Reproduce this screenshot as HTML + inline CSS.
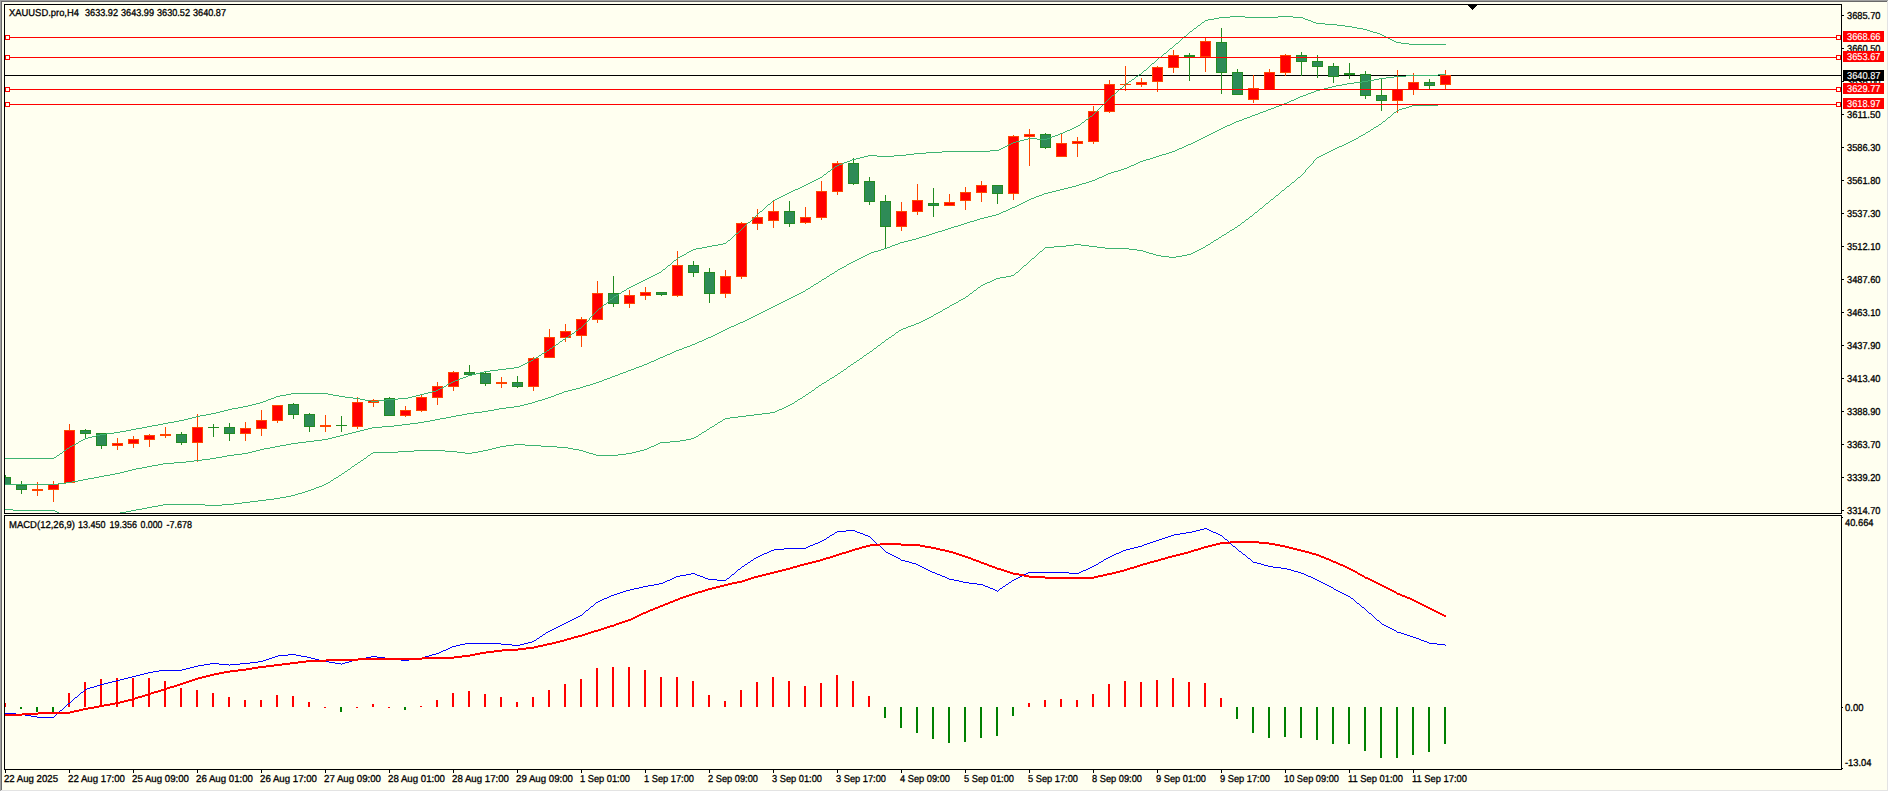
<!DOCTYPE html>
<html lang="en"><head><meta charset="utf-8"><title>XAUUSD.pro,H4</title>
<style>html,body{margin:0;padding:0;background:#FFFFF0;overflow:hidden}svg{display:block}text{font-family:"Liberation Sans",Arial,sans-serif;font-size:10px;fill:#000;stroke:#000;stroke-width:.3px;white-space:pre;text-rendering:geometricPrecision}.w{fill:#fff;stroke:#fff;stroke-width:.15px}</style></head><body>
<svg width="1889" height="792" viewBox="0 0 1889 792" shape-rendering="crispEdges">
<rect x="0" y="0" width="1889" height="792" fill="#FFFFF0"/>
<rect x="0" y="0" width="1889" height="1" fill="#A0A0A0"/>
<rect x="0" y="0" width="1" height="792" fill="#A0A0A0"/>
<rect x="1" y="1" width="1887" height="1" fill="#696969"/>
<rect x="1" y="1" width="1" height="790" fill="#696969"/>
<rect x="1888" y="0" width="1" height="792" fill="#FFFFFF"/>
<rect x="0" y="791" width="1889" height="1" fill="#FFFFFF"/>
<rect x="1887" y="1" width="1" height="790" fill="#E3E3E3"/>
<rect x="1" y="790" width="1887" height="1" fill="#E3E3E3"/>
<defs><clipPath id="c1"><rect x="5" y="5" width="1836" height="508"/></clipPath><clipPath id="c2"><rect x="5" y="516" width="1836" height="253"/></clipPath></defs>
<rect x="4" y="4" width="1838" height="1" fill="#000"/>
<rect x="4" y="513" width="1838" height="1" fill="#000"/>
<rect x="4" y="4" width="1" height="510" fill="#000"/>
<rect x="1841" y="4" width="1" height="510" fill="#000"/>
<rect x="4" y="515" width="1838" height="1" fill="#000"/>
<rect x="4" y="769" width="1838" height="1" fill="#000"/>
<rect x="4" y="515" width="1" height="255" fill="#000"/>
<rect x="1841" y="515" width="1" height="255" fill="#000"/>
<rect x="5" y="75" width="1836" height="1" fill="#000"/>
<g clip-path="url(#c1)">
<rect x="5" y="475" width="1" height="10" fill="#228B22"/>
<rect x="0" y="477" width="11" height="8" fill="#228B22"/>
<rect x="1" y="478" width="9" height="6" fill="#2E8B57"/>
<rect x="21" y="481" width="1" height="13" fill="#228B22"/>
<rect x="16" y="485" width="11" height="5" fill="#228B22"/>
<rect x="17" y="486" width="9" height="3" fill="#2E8B57"/>
<rect x="37" y="482" width="1" height="14" fill="#FF4500"/>
<rect x="32" y="489" width="11" height="2" fill="#FF4500"/>
<rect x="53" y="481" width="1" height="21" fill="#FF4500"/>
<rect x="48" y="484" width="11" height="6" fill="#FF4500"/>
<rect x="49" y="485" width="9" height="4" fill="#FF0000"/>
<rect x="69" y="424" width="1" height="59" fill="#FF4500"/>
<rect x="64" y="430" width="11" height="53" fill="#FF4500"/>
<rect x="65" y="431" width="9" height="51" fill="#FF0000"/>
<rect x="85" y="429" width="1" height="10" fill="#228B22"/>
<rect x="80" y="430" width="11" height="4" fill="#228B22"/>
<rect x="81" y="431" width="9" height="2" fill="#2E8B57"/>
<rect x="101" y="433" width="1" height="16" fill="#228B22"/>
<rect x="96" y="433" width="11" height="13" fill="#228B22"/>
<rect x="97" y="434" width="9" height="11" fill="#2E8B57"/>
<rect x="117" y="438" width="1" height="12" fill="#FF4500"/>
<rect x="112" y="443" width="11" height="3" fill="#FF4500"/>
<rect x="113" y="444" width="9" height="1" fill="#FF0000"/>
<rect x="133" y="436" width="1" height="12" fill="#FF4500"/>
<rect x="128" y="439" width="11" height="5" fill="#FF4500"/>
<rect x="129" y="440" width="9" height="3" fill="#FF0000"/>
<rect x="149" y="434" width="1" height="13" fill="#FF4500"/>
<rect x="144" y="435" width="11" height="5" fill="#FF4500"/>
<rect x="145" y="436" width="9" height="3" fill="#FF0000"/>
<rect x="165" y="427" width="1" height="11" fill="#FF4500"/>
<rect x="160" y="434" width="11" height="2" fill="#FF4500"/>
<rect x="181" y="432" width="1" height="13" fill="#228B22"/>
<rect x="176" y="434" width="11" height="9" fill="#228B22"/>
<rect x="177" y="435" width="9" height="7" fill="#2E8B57"/>
<rect x="197" y="414" width="1" height="48" fill="#FF4500"/>
<rect x="192" y="427" width="11" height="16" fill="#FF4500"/>
<rect x="193" y="428" width="9" height="14" fill="#FF0000"/>
<rect x="213" y="424" width="1" height="13" fill="#228B22"/>
<rect x="208" y="427" width="11" height="1" fill="#228B22"/>
<rect x="229" y="423" width="1" height="18" fill="#228B22"/>
<rect x="224" y="427" width="11" height="7" fill="#228B22"/>
<rect x="225" y="428" width="9" height="5" fill="#2E8B57"/>
<rect x="245" y="422" width="1" height="19" fill="#FF4500"/>
<rect x="240" y="428" width="11" height="6" fill="#FF4500"/>
<rect x="241" y="429" width="9" height="4" fill="#FF0000"/>
<rect x="261" y="410" width="1" height="26" fill="#FF4500"/>
<rect x="256" y="420" width="11" height="9" fill="#FF4500"/>
<rect x="257" y="421" width="9" height="7" fill="#FF0000"/>
<rect x="277" y="405" width="1" height="18" fill="#FF4500"/>
<rect x="272" y="405" width="11" height="16" fill="#FF4500"/>
<rect x="273" y="406" width="9" height="14" fill="#FF0000"/>
<rect x="293" y="403" width="1" height="16" fill="#228B22"/>
<rect x="288" y="404" width="11" height="11" fill="#228B22"/>
<rect x="289" y="405" width="9" height="9" fill="#2E8B57"/>
<rect x="309" y="413" width="1" height="19" fill="#228B22"/>
<rect x="304" y="414" width="11" height="13" fill="#228B22"/>
<rect x="305" y="415" width="9" height="11" fill="#2E8B57"/>
<rect x="325" y="415" width="1" height="17" fill="#FF4500"/>
<rect x="320" y="425" width="11" height="2" fill="#FF4500"/>
<rect x="341" y="416" width="1" height="16" fill="#228B22"/>
<rect x="336" y="425" width="11" height="1" fill="#228B22"/>
<rect x="357" y="397" width="1" height="32" fill="#FF4500"/>
<rect x="352" y="402" width="11" height="25" fill="#FF4500"/>
<rect x="353" y="403" width="9" height="23" fill="#FF0000"/>
<rect x="373" y="399" width="1" height="8" fill="#FF4500"/>
<rect x="368" y="400" width="11" height="3" fill="#FF4500"/>
<rect x="369" y="401" width="9" height="1" fill="#FF0000"/>
<rect x="389" y="397" width="1" height="19" fill="#228B22"/>
<rect x="384" y="398" width="11" height="18" fill="#228B22"/>
<rect x="385" y="399" width="9" height="16" fill="#2E8B57"/>
<rect x="405" y="406" width="1" height="11" fill="#FF4500"/>
<rect x="400" y="410" width="11" height="6" fill="#FF4500"/>
<rect x="401" y="411" width="9" height="4" fill="#FF0000"/>
<rect x="421" y="394" width="1" height="18" fill="#FF4500"/>
<rect x="416" y="397" width="11" height="14" fill="#FF4500"/>
<rect x="417" y="398" width="9" height="12" fill="#FF0000"/>
<rect x="437" y="382" width="1" height="23" fill="#FF4500"/>
<rect x="432" y="386" width="11" height="12" fill="#FF4500"/>
<rect x="433" y="387" width="9" height="10" fill="#FF0000"/>
<rect x="453" y="371" width="1" height="20" fill="#FF4500"/>
<rect x="448" y="372" width="11" height="15" fill="#FF4500"/>
<rect x="449" y="373" width="9" height="13" fill="#FF0000"/>
<rect x="469" y="365" width="1" height="11" fill="#228B22"/>
<rect x="464" y="372" width="11" height="3" fill="#228B22"/>
<rect x="465" y="373" width="9" height="1" fill="#2E8B57"/>
<rect x="485" y="371" width="1" height="15" fill="#228B22"/>
<rect x="480" y="373" width="11" height="11" fill="#228B22"/>
<rect x="481" y="374" width="9" height="9" fill="#2E8B57"/>
<rect x="501" y="377" width="1" height="11" fill="#FF4500"/>
<rect x="496" y="382" width="11" height="2" fill="#FF4500"/>
<rect x="517" y="376" width="1" height="12" fill="#228B22"/>
<rect x="512" y="382" width="11" height="5" fill="#228B22"/>
<rect x="513" y="383" width="9" height="3" fill="#2E8B57"/>
<rect x="533" y="357" width="1" height="34" fill="#FF4500"/>
<rect x="528" y="358" width="11" height="29" fill="#FF4500"/>
<rect x="529" y="359" width="9" height="27" fill="#FF0000"/>
<rect x="549" y="329" width="1" height="29" fill="#FF4500"/>
<rect x="544" y="337" width="11" height="21" fill="#FF4500"/>
<rect x="545" y="338" width="9" height="19" fill="#FF0000"/>
<rect x="565" y="324" width="1" height="18" fill="#FF4500"/>
<rect x="560" y="331" width="11" height="7" fill="#FF4500"/>
<rect x="561" y="332" width="9" height="5" fill="#FF0000"/>
<rect x="581" y="317" width="1" height="30" fill="#FF4500"/>
<rect x="576" y="319" width="11" height="17" fill="#FF4500"/>
<rect x="577" y="320" width="9" height="15" fill="#FF0000"/>
<rect x="597" y="281" width="1" height="42" fill="#FF4500"/>
<rect x="592" y="293" width="11" height="27" fill="#FF4500"/>
<rect x="593" y="294" width="9" height="25" fill="#FF0000"/>
<rect x="613" y="276" width="1" height="31" fill="#228B22"/>
<rect x="608" y="293" width="11" height="11" fill="#228B22"/>
<rect x="609" y="294" width="9" height="9" fill="#2E8B57"/>
<rect x="629" y="290" width="1" height="18" fill="#FF4500"/>
<rect x="624" y="295" width="11" height="9" fill="#FF4500"/>
<rect x="625" y="296" width="9" height="7" fill="#FF0000"/>
<rect x="645" y="287" width="1" height="13" fill="#FF4500"/>
<rect x="640" y="292" width="11" height="4" fill="#FF4500"/>
<rect x="641" y="293" width="9" height="2" fill="#FF0000"/>
<rect x="661" y="292" width="1" height="4" fill="#228B22"/>
<rect x="656" y="292" width="11" height="3" fill="#228B22"/>
<rect x="657" y="293" width="9" height="1" fill="#2E8B57"/>
<rect x="677" y="251" width="1" height="46" fill="#FF4500"/>
<rect x="672" y="265" width="11" height="31" fill="#FF4500"/>
<rect x="673" y="266" width="9" height="29" fill="#FF0000"/>
<rect x="693" y="261" width="1" height="16" fill="#228B22"/>
<rect x="688" y="265" width="11" height="8" fill="#228B22"/>
<rect x="689" y="266" width="9" height="6" fill="#2E8B57"/>
<rect x="709" y="268" width="1" height="35" fill="#228B22"/>
<rect x="704" y="272" width="11" height="22" fill="#228B22"/>
<rect x="705" y="273" width="9" height="20" fill="#2E8B57"/>
<rect x="725" y="270" width="1" height="28" fill="#FF4500"/>
<rect x="720" y="276" width="11" height="18" fill="#FF4500"/>
<rect x="721" y="277" width="9" height="16" fill="#FF0000"/>
<rect x="741" y="222" width="1" height="57" fill="#FF4500"/>
<rect x="736" y="223" width="11" height="54" fill="#FF4500"/>
<rect x="737" y="224" width="9" height="52" fill="#FF0000"/>
<rect x="757" y="209" width="1" height="21" fill="#FF4500"/>
<rect x="752" y="217" width="11" height="7" fill="#FF4500"/>
<rect x="753" y="218" width="9" height="5" fill="#FF0000"/>
<rect x="773" y="200" width="1" height="28" fill="#FF4500"/>
<rect x="768" y="211" width="11" height="10" fill="#FF4500"/>
<rect x="769" y="212" width="9" height="8" fill="#FF0000"/>
<rect x="789" y="201" width="1" height="26" fill="#228B22"/>
<rect x="784" y="211" width="11" height="13" fill="#228B22"/>
<rect x="785" y="212" width="9" height="11" fill="#2E8B57"/>
<rect x="805" y="207" width="1" height="17" fill="#FF4500"/>
<rect x="800" y="217" width="11" height="6" fill="#FF4500"/>
<rect x="801" y="218" width="9" height="4" fill="#FF0000"/>
<rect x="821" y="181" width="1" height="39" fill="#FF4500"/>
<rect x="816" y="191" width="11" height="27" fill="#FF4500"/>
<rect x="817" y="192" width="9" height="25" fill="#FF0000"/>
<rect x="837" y="161" width="1" height="34" fill="#FF4500"/>
<rect x="832" y="163" width="11" height="29" fill="#FF4500"/>
<rect x="833" y="164" width="9" height="27" fill="#FF0000"/>
<rect x="853" y="158" width="1" height="27" fill="#228B22"/>
<rect x="848" y="163" width="11" height="21" fill="#228B22"/>
<rect x="849" y="164" width="9" height="19" fill="#2E8B57"/>
<rect x="869" y="177" width="1" height="28" fill="#228B22"/>
<rect x="864" y="181" width="11" height="21" fill="#228B22"/>
<rect x="865" y="182" width="9" height="19" fill="#2E8B57"/>
<rect x="885" y="195" width="1" height="54" fill="#228B22"/>
<rect x="880" y="201" width="11" height="26" fill="#228B22"/>
<rect x="881" y="202" width="9" height="24" fill="#2E8B57"/>
<rect x="901" y="202" width="1" height="29" fill="#FF4500"/>
<rect x="896" y="211" width="11" height="16" fill="#FF4500"/>
<rect x="897" y="212" width="9" height="14" fill="#FF0000"/>
<rect x="917" y="184" width="1" height="31" fill="#FF4500"/>
<rect x="912" y="200" width="11" height="12" fill="#FF4500"/>
<rect x="913" y="201" width="9" height="10" fill="#FF0000"/>
<rect x="933" y="188" width="1" height="29" fill="#228B22"/>
<rect x="928" y="203" width="11" height="3" fill="#228B22"/>
<rect x="929" y="204" width="9" height="1" fill="#2E8B57"/>
<rect x="949" y="194" width="1" height="12" fill="#FF4500"/>
<rect x="944" y="202" width="11" height="4" fill="#FF4500"/>
<rect x="945" y="203" width="9" height="2" fill="#FF0000"/>
<rect x="965" y="187" width="1" height="23" fill="#FF4500"/>
<rect x="960" y="192" width="11" height="9" fill="#FF4500"/>
<rect x="961" y="193" width="9" height="7" fill="#FF0000"/>
<rect x="981" y="181" width="1" height="21" fill="#FF4500"/>
<rect x="976" y="185" width="11" height="8" fill="#FF4500"/>
<rect x="977" y="186" width="9" height="6" fill="#FF0000"/>
<rect x="997" y="185" width="1" height="19" fill="#228B22"/>
<rect x="992" y="185" width="11" height="9" fill="#228B22"/>
<rect x="993" y="186" width="9" height="7" fill="#2E8B57"/>
<rect x="1013" y="135" width="1" height="65" fill="#FF4500"/>
<rect x="1008" y="136" width="11" height="58" fill="#FF4500"/>
<rect x="1009" y="137" width="9" height="56" fill="#FF0000"/>
<rect x="1029" y="129" width="1" height="37" fill="#FF4500"/>
<rect x="1024" y="134" width="11" height="3" fill="#FF4500"/>
<rect x="1025" y="135" width="9" height="1" fill="#FF0000"/>
<rect x="1045" y="133" width="1" height="16" fill="#228B22"/>
<rect x="1040" y="134" width="11" height="14" fill="#228B22"/>
<rect x="1041" y="135" width="9" height="12" fill="#2E8B57"/>
<rect x="1061" y="133" width="1" height="24" fill="#FF4500"/>
<rect x="1056" y="143" width="11" height="14" fill="#FF4500"/>
<rect x="1057" y="144" width="9" height="12" fill="#FF0000"/>
<rect x="1077" y="137" width="1" height="20" fill="#FF4500"/>
<rect x="1072" y="141" width="11" height="3" fill="#FF4500"/>
<rect x="1073" y="142" width="9" height="1" fill="#FF0000"/>
<rect x="1093" y="106" width="1" height="38" fill="#FF4500"/>
<rect x="1088" y="111" width="11" height="31" fill="#FF4500"/>
<rect x="1089" y="112" width="9" height="29" fill="#FF0000"/>
<rect x="1109" y="80" width="1" height="33" fill="#FF4500"/>
<rect x="1104" y="84" width="11" height="28" fill="#FF4500"/>
<rect x="1105" y="85" width="9" height="26" fill="#FF0000"/>
<rect x="1125" y="66" width="1" height="25" fill="#FF4500"/>
<rect x="1120" y="84" width="11" height="1" fill="#FF4500"/>
<rect x="1141" y="78" width="1" height="9" fill="#FF4500"/>
<rect x="1136" y="82" width="11" height="3" fill="#FF4500"/>
<rect x="1137" y="83" width="9" height="1" fill="#FF0000"/>
<rect x="1157" y="66" width="1" height="26" fill="#FF4500"/>
<rect x="1152" y="67" width="11" height="15" fill="#FF4500"/>
<rect x="1153" y="68" width="9" height="13" fill="#FF0000"/>
<rect x="1173" y="50" width="1" height="23" fill="#FF4500"/>
<rect x="1168" y="55" width="11" height="13" fill="#FF4500"/>
<rect x="1169" y="56" width="9" height="11" fill="#FF0000"/>
<rect x="1189" y="53" width="1" height="28" fill="#228B22"/>
<rect x="1184" y="55" width="11" height="2" fill="#228B22"/>
<rect x="1205" y="37" width="1" height="35" fill="#FF4500"/>
<rect x="1200" y="41" width="11" height="16" fill="#FF4500"/>
<rect x="1201" y="42" width="9" height="14" fill="#FF0000"/>
<rect x="1221" y="28" width="1" height="66" fill="#228B22"/>
<rect x="1216" y="42" width="11" height="31" fill="#228B22"/>
<rect x="1217" y="43" width="9" height="29" fill="#2E8B57"/>
<rect x="1237" y="69" width="1" height="26" fill="#228B22"/>
<rect x="1232" y="72" width="11" height="23" fill="#228B22"/>
<rect x="1233" y="73" width="9" height="21" fill="#2E8B57"/>
<rect x="1253" y="75" width="1" height="28" fill="#FF4500"/>
<rect x="1248" y="88" width="11" height="12" fill="#FF4500"/>
<rect x="1249" y="89" width="9" height="10" fill="#FF0000"/>
<rect x="1269" y="69" width="1" height="21" fill="#FF4500"/>
<rect x="1264" y="72" width="11" height="18" fill="#FF4500"/>
<rect x="1265" y="73" width="9" height="16" fill="#FF0000"/>
<rect x="1285" y="54" width="1" height="22" fill="#FF4500"/>
<rect x="1280" y="55" width="11" height="18" fill="#FF4500"/>
<rect x="1281" y="56" width="9" height="16" fill="#FF0000"/>
<rect x="1301" y="52" width="1" height="24" fill="#228B22"/>
<rect x="1296" y="55" width="11" height="7" fill="#228B22"/>
<rect x="1297" y="56" width="9" height="5" fill="#2E8B57"/>
<rect x="1317" y="55" width="1" height="23" fill="#228B22"/>
<rect x="1312" y="61" width="11" height="6" fill="#228B22"/>
<rect x="1313" y="62" width="9" height="4" fill="#2E8B57"/>
<rect x="1333" y="63" width="1" height="20" fill="#228B22"/>
<rect x="1328" y="66" width="11" height="11" fill="#228B22"/>
<rect x="1329" y="67" width="9" height="9" fill="#2E8B57"/>
<rect x="1349" y="63" width="1" height="16" fill="#228B22"/>
<rect x="1344" y="73" width="11" height="2" fill="#228B22"/>
<rect x="1365" y="71" width="1" height="28" fill="#228B22"/>
<rect x="1360" y="74" width="11" height="22" fill="#228B22"/>
<rect x="1361" y="75" width="9" height="20" fill="#2E8B57"/>
<rect x="1381" y="78" width="1" height="33" fill="#228B22"/>
<rect x="1376" y="95" width="11" height="6" fill="#228B22"/>
<rect x="1377" y="96" width="9" height="4" fill="#2E8B57"/>
<rect x="1397" y="70" width="1" height="43" fill="#FF4500"/>
<rect x="1392" y="89" width="11" height="12" fill="#FF4500"/>
<rect x="1393" y="90" width="9" height="10" fill="#FF0000"/>
<rect x="1413" y="73" width="1" height="22" fill="#FF4500"/>
<rect x="1408" y="82" width="11" height="8" fill="#FF4500"/>
<rect x="1409" y="83" width="9" height="6" fill="#FF0000"/>
<rect x="1429" y="79" width="1" height="11" fill="#228B22"/>
<rect x="1424" y="82" width="11" height="4" fill="#228B22"/>
<rect x="1425" y="83" width="9" height="2" fill="#2E8B57"/>
<rect x="1445" y="70" width="1" height="20" fill="#FF4500"/>
<rect x="1440" y="75" width="11" height="10" fill="#FF4500"/>
<rect x="1441" y="76" width="9" height="8" fill="#FF0000"/>
<path fill="none" stroke="#3CB371" stroke-width="1" d="M1230 16.5h15M1278 16.5h15M1219 17.5h11M1245 17.5h33M1293 17.5h10M1214 18.5h5M1303 18.5h2M1208 19.5h6M1305 19.5h3M1205 20.5h3M1308 20.5h3M1204 21.5h1M1311 21.5h2M1202 22.5h2M1313 22.5h3M1201 23.5h1M1316 23.5h9M1200 24.5h1M1325 24.5h12M1198 25.5h2M1337 25.5h8M1197 26.5h1M1345 26.5h7M1196 27.5h1M1352 27.5h5M1194 28.5h2M1357 28.5h6M1193 29.5h1M1363 29.5h4M1192 30.5h1M1367 30.5h3M1190 31.5h2M1370 31.5h3M1189 32.5h1M1373 32.5h4M1188 33.5h1M1377 33.5h3M1187 34.5h1M1380 34.5h2M1186 35.5h1M1382 35.5h2M1184 36.5h2M1384 36.5h2M1183 37.5h1M1386 37.5h2M1182 38.5h1M1388 38.5h2M1181 39.5h1M1390 39.5h2M1180 40.5h1M1392 40.5h2M1179 41.5h1M1394 41.5h2M1178 42.5h1M1396 42.5h5M1176 43.5h2M1401 43.5h8M1175 44.5h1M1409 44.5h37M1174 45.5h1M1173 46.5h1M1172 47.5h1M1170 48.5h2M1169 49.5h1M1168 50.5h1M1167 51.5h1M1166 52.5h1M1164 53.5h2M1163 54.5h1M1162 55.5h1M1161 56.5h1M1159 57.5h2M1158 58.5h1M1157 59.5h1M1156 60.5h1M1155 61.5h1M1154 62.5h1M1152 63.5h2M1151 64.5h1M1150 65.5h1M1149 66.5h1M1148 67.5h1M1147 68.5h1M1146 69.5h1M1144 70.5h2M1143 71.5h1M1142 72.5h1M1141 73.5h1M1139 74.5h2M1138 75.5h1M1136 76.5h2M1135 77.5h1M1134 78.5h1M1132 79.5h2M1131 80.5h1M1129 81.5h2M1128 82.5h1M1126 83.5h2M1125 84.5h1M1124 85.5h1M1123 86.5h1M1122 87.5h1M1120 88.5h2M1119 89.5h1M1118 90.5h1M1117 91.5h1M1116 92.5h1M1115 93.5h1M1114 94.5h1M1112 95.5h2M1111 96.5h1M1110 97.5h1M1109 98.5h1M1108 99.5h1M1107 100.5h1M1106 101.5h1M1105 102.5h1M1104 103.5h1M1103 104.5h1M1102 105.5h1M1101 106.5h1M1100 107.5h1M1099 108.5h1M1098 109.5h1M1097 110.5h1M1096 111.5h1M1095 112.5h1M1094 113.5h1M1093 114.5h1M1092 115.5h1M1090 116.5h2M1089 117.5h1M1088 118.5h1M1086 119.5h2M1085 120.5h1M1084 121.5h1M1082 122.5h2M1081 123.5h1M1080 124.5h1M1078 125.5h2M1076 126.5h2M1074 127.5h2M1072 128.5h2M1070 129.5h2M1067 130.5h3M1065 131.5h2M1063 132.5h2M1060 133.5h3M1058 134.5h2M1055 135.5h3M1052 136.5h3M1050 137.5h2M1028 138.5h9M1047 138.5h3M1024 139.5h4M1037 139.5h10M1020 140.5h4M1016 141.5h4M1013 142.5h3M1011 143.5h2M1009 144.5h2M1007 145.5h2M1005 146.5h2M1003 147.5h2M1001 148.5h2M999 149.5h2M990 150.5h9M942 151.5h48M926 152.5h16M914 153.5h12M906 154.5h8M868 155.5h9M894 155.5h12M864 156.5h4M877 156.5h17M860 157.5h4M856 158.5h4M852 159.5h4M850 160.5h2M847 161.5h3M844 162.5h3M842 163.5h2M839 164.5h3M837 165.5h2M835 166.5h2M834 167.5h1M833 168.5h1M831 169.5h2M830 170.5h1M828 171.5h2M827 172.5h1M826 173.5h1M824 174.5h2M823 175.5h1M822 176.5h1M820 177.5h2M818 178.5h2M816 179.5h2M814 180.5h2M812 181.5h2M810 182.5h2M808 183.5h2M806 184.5h2M804 185.5h2M802 186.5h2M800 187.5h2M798 188.5h2M795 189.5h3M793 190.5h2M791 191.5h2M789 192.5h2M787 193.5h2M785 194.5h2M783 195.5h2M781 196.5h2M779 197.5h2M777 198.5h2M775 199.5h2M773 200.5h2M772 201.5h1M771 202.5h1M770 203.5h1M768 204.5h2M767 205.5h1M766 206.5h1M765 207.5h1M764 208.5h1M763 209.5h1M762 210.5h1M760 211.5h2M759 212.5h1M758 213.5h1M757 214.5h1M756 215.5h1M755 216.5h1M754 217.5h1M753 218.5h1M752 219.5h1M751 220.5h1M750 221.5h1M748 222.5h2M747 223.5h1M746 224.5h1M745 225.5h1M744 226.5h1M743 227.5h1M742 228.5h1M741 229.5h1M740 230.5h1M739 231.5h1M738 232.5h1M736 233.5h2M735 234.5h1M734 235.5h1M733 236.5h1M732 237.5h1M731 238.5h1M730 239.5h1M728 240.5h2M727 241.5h1M726 242.5h1M723 243.5h3M718 244.5h5M712 245.5h6M707 246.5h5M702 247.5h5M696 248.5h6M693 249.5h3M691 250.5h2M689 251.5h2M687 252.5h2M686 253.5h1M684 254.5h2M682 255.5h2M680 256.5h2M678 257.5h2M677 258.5h1M676 259.5h1M674 260.5h2M673 261.5h1M672 262.5h1M671 263.5h1M670 264.5h1M668 265.5h2M667 266.5h1M666 267.5h1M665 268.5h1M663 269.5h2M662 270.5h1M661 271.5h1M659 272.5h2M657 273.5h2M655 274.5h2M653 275.5h2M651 276.5h2M649 277.5h2M647 278.5h2M645 279.5h2M643 280.5h2M641 281.5h2M639 282.5h2M637 283.5h2M635 284.5h2M633 285.5h2M631 286.5h2M629 287.5h2M627 288.5h2M626 289.5h1M624 290.5h2M622 291.5h2M621 292.5h1M619 293.5h2M618 294.5h1M616 295.5h2M614 296.5h2M613 297.5h1M612 298.5h1M610 299.5h2M609 300.5h1M608 301.5h1M607 302.5h1M606 303.5h1M604 304.5h2M603 305.5h1M602 306.5h1M601 307.5h1M599 308.5h2M598 309.5h1M597 310.5h1M596 311.5h1M595 312.5h1M594 313.5h1M593 314.5h1M592 315.5h1M591 316.5h1M590 317.5h1M589 318.5h1M589 319.5h1M588 320.5h1M587 321.5h1M586 322.5h1M585 323.5h1M584 324.5h1M583 325.5h1M582 326.5h1M581 327.5h1M579 328.5h2M578 329.5h1M576 330.5h2M575 331.5h1M574 332.5h1M572 333.5h2M571 334.5h1M569 335.5h2M568 336.5h1M566 337.5h2M565 338.5h1M563 339.5h2M562 340.5h1M560 341.5h2M559 342.5h1M558 343.5h1M556 344.5h2M555 345.5h1M553 346.5h2M552 347.5h1M550 348.5h2M549 349.5h1M547 350.5h2M546 351.5h1M544 352.5h2M542 353.5h2M541 354.5h1M539 355.5h2M538 356.5h1M536 357.5h2M534 358.5h2M533 359.5h1M531 360.5h2M529 361.5h2M527 362.5h2M525 363.5h2M523 364.5h2M521 365.5h2M519 366.5h2M514 367.5h5M506 368.5h8M498 369.5h8M490 370.5h8M484 371.5h6M480 372.5h4M476 373.5h4M472 374.5h4M468 375.5h4M466 376.5h2M463 377.5h3M460 378.5h3M458 379.5h2M455 380.5h3M453 381.5h2M451 382.5h2M449 383.5h2M447 384.5h2M446 385.5h1M444 386.5h2M442 387.5h2M440 388.5h2M438 389.5h2M436 390.5h2M432 391.5h4M428 392.5h4M291 393.5h37M424 393.5h4M286 394.5h5M328 394.5h5M420 394.5h4M280 395.5h6M333 395.5h6M416 395.5h4M276 396.5h4M339 396.5h6M412 396.5h4M274 397.5h2M345 397.5h8M408 397.5h4M271 398.5h3M353 398.5h7M398 398.5h10M268 399.5h3M360 399.5h5M386 399.5h12M266 400.5h2M365 400.5h6M378 400.5h8M263 401.5h3M371 401.5h7M260 402.5h3M256 403.5h4M252 404.5h4M248 405.5h4M243 406.5h5M238 407.5h5M232 408.5h6M228 409.5h4M224 410.5h4M220 411.5h4M216 412.5h4M211 413.5h5M206 414.5h5M200 415.5h6M196 416.5h4M192 417.5h4M188 418.5h4M184 419.5h4M179 420.5h5M174 421.5h5M168 422.5h6M163 423.5h5M158 424.5h5M152 425.5h6M147 426.5h5M142 427.5h5M136 428.5h6M131 429.5h5M126 430.5h5M120 431.5h6M114 432.5h6M106 433.5h8M100 434.5h6M96 435.5h4M92 436.5h4M88 437.5h4M85 438.5h3M83 439.5h2M81 440.5h2M79 441.5h2M78 442.5h1M76 443.5h2M74 444.5h2M72 445.5h2M70 446.5h2M69 447.5h1M67 448.5h2M66 449.5h1M64 450.5h2M63 451.5h1M62 452.5h1M60 453.5h2M59 454.5h1M57 455.5h2M56 456.5h1M54 457.5h2M-11 458.5h65"/>
<path fill="none" stroke="#3CB371" stroke-width="1" d="M1438 74.5h8M1406 75.5h32M1394 76.5h12M1386 77.5h8M1379 78.5h7M1374 79.5h5M1368 80.5h6M1362 81.5h6M1354 82.5h8M1347 83.5h7M1342 84.5h5M1336 85.5h6M1332 86.5h4M1328 87.5h4M1324 88.5h4M1320 89.5h4M1316 90.5h4M1314 91.5h2M1311 92.5h3M1308 93.5h3M1306 94.5h2M1303 95.5h3M1300 96.5h3M1298 97.5h2M1296 98.5h2M1294 99.5h2M1291 100.5h3M1289 101.5h2M1287 102.5h2M1284 103.5h3M1282 104.5h2M1279 105.5h3M1276 106.5h3M1274 107.5h2M1271 108.5h3M1268 109.5h3M1266 110.5h2M1263 111.5h3M1260 112.5h3M1258 113.5h2M1255 114.5h3M1252 115.5h3M1250 116.5h2M1247 117.5h3M1244 118.5h3M1242 119.5h2M1239 120.5h3M1236 121.5h3M1234 122.5h2M1232 123.5h2M1230 124.5h2M1227 125.5h3M1225 126.5h2M1223 127.5h2M1221 128.5h2M1219 129.5h2M1217 130.5h2M1215 131.5h2M1213 132.5h2M1211 133.5h2M1209 134.5h2M1207 135.5h2M1205 136.5h2M1203 137.5h2M1201 138.5h2M1199 139.5h2M1197 140.5h2M1195 141.5h2M1193 142.5h2M1191 143.5h2M1188 144.5h3M1186 145.5h2M1184 146.5h2M1182 147.5h2M1179 148.5h3M1177 149.5h2M1175 150.5h2M1172 151.5h3M1169 152.5h3M1166 153.5h3M1162 154.5h4M1159 155.5h3M1156 156.5h3M1153 157.5h3M1150 158.5h3M1146 159.5h4M1143 160.5h3M1140 161.5h3M1138 162.5h2M1136 163.5h2M1134 164.5h2M1131 165.5h3M1129 166.5h2M1127 167.5h2M1124 168.5h3M1121 169.5h3M1118 170.5h3M1114 171.5h4M1111 172.5h3M1108 173.5h3M1106 174.5h2M1104 175.5h2M1102 176.5h2M1099 177.5h3M1097 178.5h2M1095 179.5h2M1092 180.5h3M1089 181.5h3M1086 182.5h3M1082 183.5h4M1079 184.5h3M1076 185.5h3M1072 186.5h4M1068 187.5h4M1064 188.5h4M1060 189.5h4M1056 190.5h4M1052 191.5h4M1048 192.5h4M1044 193.5h4M1042 194.5h2M1039 195.5h3M1036 196.5h3M1034 197.5h2M1031 198.5h3M1029 199.5h2M1027 200.5h2M1025 201.5h2M1023 202.5h2M1021 203.5h2M1019 204.5h2M1017 205.5h2M1015 206.5h2M1012 207.5h3M1010 208.5h2M1008 209.5h2M1006 210.5h2M1003 211.5h3M1001 212.5h2M999 213.5h2M996 214.5h3M992 215.5h4M988 216.5h4M984 217.5h4M980 218.5h4M977 219.5h3M974 220.5h3M970 221.5h4M967 222.5h3M964 223.5h3M961 224.5h3M958 225.5h3M954 226.5h4M951 227.5h3M948 228.5h3M945 229.5h3M942 230.5h3M938 231.5h4M935 232.5h3M932 233.5h3M929 234.5h3M926 235.5h3M922 236.5h4M919 237.5h3M916 238.5h3M912 239.5h4M908 240.5h4M904 241.5h4M900 242.5h4M898 243.5h2M895 244.5h3M892 245.5h3M890 246.5h2M887 247.5h3M884 248.5h3M881 249.5h3M878 250.5h3M874 251.5h4M871 252.5h3M869 253.5h2M867 254.5h2M865 255.5h2M863 256.5h2M861 257.5h2M859 258.5h2M857 259.5h2M855 260.5h2M853 261.5h2M851 262.5h2M849 263.5h2M847 264.5h2M846 265.5h1M844 266.5h2M842 267.5h2M840 268.5h2M838 269.5h2M837 270.5h1M835 271.5h2M834 272.5h1M832 273.5h2M830 274.5h2M829 275.5h1M827 276.5h2M826 277.5h1M824 278.5h2M822 279.5h2M821 280.5h1M819 281.5h2M818 282.5h1M816 283.5h2M814 284.5h2M813 285.5h1M811 286.5h2M810 287.5h1M808 288.5h2M806 289.5h2M805 290.5h1M803 291.5h2M801 292.5h2M799 293.5h2M797 294.5h2M795 295.5h2M793 296.5h2M791 297.5h2M789 298.5h2M787 299.5h2M785 300.5h2M783 301.5h2M781 302.5h2M779 303.5h2M777 304.5h2M775 305.5h2M773 306.5h2M771 307.5h2M769 308.5h2M767 309.5h2M765 310.5h2M763 311.5h2M761 312.5h2M759 313.5h2M757 314.5h2M755 315.5h2M753 316.5h2M751 317.5h2M749 318.5h2M747 319.5h2M745 320.5h2M743 321.5h2M740 322.5h3M738 323.5h2M736 324.5h2M734 325.5h2M731 326.5h3M729 327.5h2M727 328.5h2M725 329.5h2M723 330.5h2M721 331.5h2M719 332.5h2M717 333.5h2M715 334.5h2M713 335.5h2M711 336.5h2M708 337.5h3M706 338.5h2M704 339.5h2M702 340.5h2M699 341.5h3M697 342.5h2M695 343.5h2M692 344.5h3M690 345.5h2M687 346.5h3M684 347.5h3M682 348.5h2M679 349.5h3M676 350.5h3M674 351.5h2M672 352.5h2M670 353.5h2M667 354.5h3M665 355.5h2M663 356.5h2M660 357.5h3M658 358.5h2M656 359.5h2M654 360.5h2M651 361.5h3M649 362.5h2M647 363.5h2M644 364.5h3M642 365.5h2M639 366.5h3M636 367.5h3M634 368.5h2M631 369.5h3M628 370.5h3M626 371.5h2M623 372.5h3M620 373.5h3M618 374.5h2M615 375.5h3M612 376.5h3M610 377.5h2M607 378.5h3M604 379.5h3M602 380.5h2M599 381.5h3M596 382.5h3M593 383.5h3M590 384.5h3M586 385.5h4M583 386.5h3M580 387.5h3M576 388.5h4M572 389.5h4M568 390.5h4M564 391.5h4M562 392.5h2M559 393.5h3M556 394.5h3M554 395.5h2M551 396.5h3M548 397.5h3M545 398.5h3M542 399.5h3M538 400.5h4M535 401.5h3M532 402.5h3M528 403.5h4M524 404.5h4M520 405.5h4M514 406.5h6M506 407.5h8M499 408.5h7M494 409.5h5M488 410.5h6M482 411.5h6M474 412.5h8M467 413.5h7M462 414.5h5M456 415.5h6M451 416.5h5M446 417.5h5M440 418.5h6M435 419.5h5M430 420.5h5M424 421.5h6M418 422.5h6M410 423.5h8M402 424.5h8M394 425.5h8M382 426.5h12M372 427.5h10M368 428.5h4M364 429.5h4M360 430.5h4M356 431.5h4M352 432.5h4M348 433.5h4M344 434.5h4M340 435.5h4M336 436.5h4M332 437.5h4M328 438.5h4M322 439.5h6M314 440.5h8M306 441.5h8M298 442.5h8M291 443.5h7M286 444.5h5M280 445.5h6M275 446.5h5M270 447.5h5M264 448.5h6M260 449.5h4M256 450.5h4M252 451.5h4M248 452.5h4M242 453.5h6M234 454.5h8M227 455.5h7M222 456.5h5M216 457.5h6M210 458.5h6M202 459.5h8M194 460.5h8M186 461.5h8M174 462.5h12M163 463.5h11M158 464.5h5M152 465.5h6M147 466.5h5M142 467.5h5M136 468.5h6M132 469.5h4M128 470.5h4M124 471.5h4M120 472.5h4M115 473.5h5M110 474.5h5M104 475.5h6M99 476.5h5M94 477.5h5M88 478.5h6M83 479.5h5M78 480.5h5M72 481.5h6M66 482.5h6M58 483.5h8M-11 484.5h69"/>
<path fill="none" stroke="#3CB371" stroke-width="1" d="M1438 104.5h8M1412 105.5h26M1409 106.5h3M1406 107.5h3M1402 108.5h4M1399 109.5h3M1397 110.5h2M1396 111.5h1M1394 112.5h2M1393 113.5h1M1392 114.5h1M1391 115.5h1M1390 116.5h1M1388 117.5h2M1387 118.5h1M1386 119.5h1M1385 120.5h1M1383 121.5h2M1382 122.5h1M1381 123.5h1M1379 124.5h2M1378 125.5h1M1376 126.5h2M1374 127.5h2M1373 128.5h1M1371 129.5h2M1370 130.5h1M1368 131.5h2M1366 132.5h2M1365 133.5h1M1363 134.5h2M1361 135.5h2M1359 136.5h2M1358 137.5h1M1356 138.5h2M1354 139.5h2M1352 140.5h2M1350 141.5h2M1348 142.5h2M1346 143.5h2M1344 144.5h2M1342 145.5h2M1339 146.5h3M1337 147.5h2M1335 148.5h2M1333 149.5h2M1331 150.5h2M1329 151.5h2M1327 152.5h2M1325 153.5h2M1323 154.5h2M1321 155.5h2M1319 156.5h2M1317 157.5h2M1316 158.5h1M1315 159.5h1M1314 160.5h1M1313 161.5h1M1313 162.5h1M1312 163.5h1M1311 164.5h1M1310 165.5h1M1309 166.5h1M1308 167.5h1M1307 168.5h1M1306 169.5h1M1305 170.5h1M1305 171.5h1M1304 172.5h1M1303 173.5h1M1302 174.5h1M1301 175.5h1M1300 176.5h1M1298 177.5h2M1297 178.5h1M1296 179.5h1M1295 180.5h1M1294 181.5h1M1292 182.5h2M1291 183.5h1M1290 184.5h1M1289 185.5h1M1287 186.5h2M1286 187.5h1M1285 188.5h1M1284 189.5h1M1282 190.5h2M1281 191.5h1M1280 192.5h1M1279 193.5h1M1278 194.5h1M1276 195.5h2M1275 196.5h1M1274 197.5h1M1273 198.5h1M1271 199.5h2M1270 200.5h1M1269 201.5h1M1268 202.5h1M1266 203.5h2M1265 204.5h1M1264 205.5h1M1263 206.5h1M1262 207.5h1M1260 208.5h2M1259 209.5h1M1258 210.5h1M1257 211.5h1M1255 212.5h2M1254 213.5h1M1253 214.5h1M1252 215.5h1M1250 216.5h2M1249 217.5h1M1248 218.5h1M1246 219.5h2M1245 220.5h1M1244 221.5h1M1242 222.5h2M1241 223.5h1M1240 224.5h1M1238 225.5h2M1237 226.5h1M1235 227.5h2M1234 228.5h1M1232 229.5h2M1230 230.5h2M1229 231.5h1M1227 232.5h2M1226 233.5h1M1224 234.5h2M1222 235.5h2M1221 236.5h1M1219 237.5h2M1218 238.5h1M1216 239.5h2M1214 240.5h2M1213 241.5h1M1211 242.5h2M1210 243.5h1M1074 244.5h7M1208 244.5h2M1066 245.5h8M1081 245.5h8M1206 245.5h2M1054 246.5h12M1089 246.5h8M1205 246.5h1M1045 247.5h9M1097 247.5h8M1203 247.5h2M1044 248.5h1M1105 248.5h24M1201 248.5h2M1043 249.5h1M1129 249.5h8M1199 249.5h2M1042 250.5h1M1137 250.5h6M1197 250.5h2M1040 251.5h2M1143 251.5h3M1195 251.5h2M1039 252.5h1M1146 252.5h3M1193 252.5h2M1038 253.5h1M1149 253.5h4M1191 253.5h2M1037 254.5h1M1153 254.5h3M1187 254.5h4M1036 255.5h1M1156 255.5h5M1182 255.5h5M1035 256.5h1M1161 256.5h8M1176 256.5h6M1034 257.5h1M1169 257.5h7M1032 258.5h2M1031 259.5h1M1030 260.5h1M1029 261.5h1M1028 262.5h1M1027 263.5h1M1026 264.5h1M1024 265.5h2M1023 266.5h1M1022 267.5h1M1021 268.5h1M1020 269.5h1M1019 270.5h1M1018 271.5h1M1016 272.5h2M1015 273.5h1M1014 274.5h1M1011 275.5h3M1006 276.5h5M1000 277.5h6M996 278.5h4M994 279.5h2M992 280.5h2M990 281.5h2M987 282.5h3M985 283.5h2M983 284.5h2M981 285.5h2M980 286.5h1M978 287.5h2M977 288.5h1M976 289.5h1M974 290.5h2M973 291.5h1M972 292.5h1M970 293.5h2M969 294.5h1M968 295.5h1M966 296.5h2M965 297.5h1M963 298.5h2M961 299.5h2M959 300.5h2M958 301.5h1M956 302.5h2M954 303.5h2M952 304.5h2M950 305.5h2M949 306.5h1M947 307.5h2M945 308.5h2M943 309.5h2M942 310.5h1M940 311.5h2M938 312.5h2M936 313.5h2M934 314.5h2M933 315.5h1M931 316.5h2M929 317.5h2M927 318.5h2M925 319.5h2M923 320.5h2M921 321.5h2M919 322.5h2M916 323.5h3M914 324.5h2M911 325.5h3M908 326.5h3M906 327.5h2M903 328.5h3M901 329.5h2M899 330.5h2M898 331.5h1M896 332.5h2M895 333.5h1M894 334.5h1M892 335.5h2M891 336.5h1M889 337.5h2M888 338.5h1M886 339.5h2M885 340.5h1M884 341.5h1M882 342.5h2M881 343.5h1M880 344.5h1M878 345.5h2M877 346.5h1M876 347.5h1M874 348.5h2M873 349.5h1M872 350.5h1M870 351.5h2M869 352.5h1M867 353.5h2M866 354.5h1M864 355.5h2M863 356.5h1M862 357.5h1M860 358.5h2M859 359.5h1M857 360.5h2M856 361.5h1M854 362.5h2M853 363.5h1M851 364.5h2M850 365.5h1M848 366.5h2M847 367.5h1M846 368.5h1M844 369.5h2M843 370.5h1M841 371.5h2M840 372.5h1M838 373.5h2M837 374.5h1M835 375.5h2M834 376.5h1M832 377.5h2M830 378.5h2M829 379.5h1M827 380.5h2M826 381.5h1M824 382.5h2M822 383.5h2M821 384.5h1M819 385.5h2M818 386.5h1M816 387.5h2M815 388.5h1M814 389.5h1M812 390.5h2M811 391.5h1M809 392.5h2M808 393.5h1M806 394.5h2M805 395.5h1M803 396.5h2M802 397.5h1M800 398.5h2M798 399.5h2M797 400.5h1M795 401.5h2M794 402.5h1M792 403.5h2M790 404.5h2M788 405.5h2M786 406.5h2M784 407.5h2M782 408.5h2M779 409.5h3M777 410.5h2M775 411.5h2M770 412.5h5M762 413.5h8M754 414.5h8M746 415.5h8M738 416.5h8M730 417.5h8M725 418.5h5M723 419.5h2M722 420.5h1M720 421.5h2M718 422.5h2M717 423.5h1M715 424.5h2M714 425.5h1M712 426.5h2M710 427.5h2M709 428.5h1M707 429.5h2M706 430.5h1M704 431.5h2M702 432.5h2M701 433.5h1M699 434.5h2M698 435.5h1M696 436.5h2M694 437.5h2M691 438.5h3M686 439.5h5M680 440.5h6M670 441.5h10M660 442.5h10M658 443.5h2M514 444.5h11M656 444.5h2M506 445.5h8M525 445.5h16M654 445.5h2M500 446.5h6M541 446.5h16M651 446.5h3M496 447.5h4M557 447.5h11M649 447.5h2M492 448.5h4M568 448.5h5M647 448.5h2M488 449.5h4M573 449.5h6M644 449.5h3M414 450.5h31M483 450.5h5M579 450.5h4M640 450.5h4M398 451.5h16M445 451.5h12M478 451.5h5M583 451.5h3M636 451.5h4M373 452.5h25M457 452.5h8M472 452.5h6M586 452.5h3M632 452.5h4M371 453.5h2M465 453.5h7M589 453.5h4M626 453.5h6M370 454.5h1M593 454.5h3M618 454.5h8M368 455.5h2M596 455.5h22M367 456.5h1M366 457.5h1M364 458.5h2M363 459.5h1M361 460.5h2M360 461.5h1M358 462.5h2M357 463.5h1M355 464.5h2M354 465.5h1M352 466.5h2M351 467.5h1M350 468.5h1M348 469.5h2M347 470.5h1M345 471.5h2M344 472.5h1M342 473.5h2M341 474.5h1M339 475.5h2M338 476.5h1M336 477.5h2M334 478.5h2M333 479.5h1M331 480.5h2M330 481.5h1M328 482.5h2M326 483.5h2M324 484.5h2M322 485.5h2M319 486.5h3M316 487.5h3M314 488.5h2M311 489.5h3M308 490.5h3M305 491.5h3M302 492.5h3M298 493.5h4M295 494.5h3M291 495.5h4M286 496.5h5M280 497.5h6M274 498.5h6M266 499.5h8M258 500.5h8M250 501.5h8M242 502.5h8M234 503.5h8M163 504.5h42M222 504.5h12M158 505.5h5M205 505.5h17M152 506.5h6M147 507.5h5M-11 508.5h8M142 508.5h5M-3 509.5h16M136 509.5h6M13 510.5h42M131 510.5h5M55 511.5h2M126 511.5h5M57 512.5h2M120 512.5h6M59 513.5h2M116 513.5h4M61 514.5h3M112 514.5h4M64 515.5h2M108 515.5h4M66 516.5h2M104 516.5h4M68 517.5h5M98 517.5h6M73 518.5h8M90 518.5h8M81 519.5h9"/>
</g>
<rect x="5" y="37" width="1836" height="1" fill="#FF0000"/>
<rect x="5" y="35" width="5" height="5" fill="#FF0000"/>
<rect x="6" y="36" width="3" height="3" fill="#FFFFF0"/>
<rect x="1836" y="35" width="5" height="5" fill="#FF0000"/>
<rect x="1837" y="36" width="3" height="3" fill="#FFFFF0"/>
<rect x="5" y="57" width="1836" height="1" fill="#FF0000"/>
<rect x="5" y="55" width="5" height="5" fill="#FF0000"/>
<rect x="6" y="56" width="3" height="3" fill="#FFFFF0"/>
<rect x="1836" y="55" width="5" height="5" fill="#FF0000"/>
<rect x="1837" y="56" width="3" height="3" fill="#FFFFF0"/>
<rect x="5" y="89" width="1836" height="1" fill="#FF0000"/>
<rect x="5" y="87" width="5" height="5" fill="#FF0000"/>
<rect x="6" y="88" width="3" height="3" fill="#FFFFF0"/>
<rect x="1836" y="87" width="5" height="5" fill="#FF0000"/>
<rect x="1837" y="88" width="3" height="3" fill="#FFFFF0"/>
<rect x="5" y="104" width="1836" height="1" fill="#FF0000"/>
<rect x="5" y="102" width="5" height="5" fill="#FF0000"/>
<rect x="6" y="103" width="3" height="3" fill="#FFFFF0"/>
<rect x="1836" y="102" width="5" height="5" fill="#FF0000"/>
<rect x="1837" y="103" width="3" height="3" fill="#FFFFF0"/>
<polygon points="1467.5,5 1477.5,5 1472.5,10" fill="#000"/>
<g clip-path="url(#c2)">
<rect x="4" y="703" width="2" height="4" fill="#FF0000"/>
<rect x="20" y="707" width="2" height="2" fill="#008000"/>
<rect x="36" y="707" width="2" height="5" fill="#008000"/>
<rect x="52" y="707" width="2" height="5" fill="#008000"/>
<rect x="68" y="693" width="2" height="14" fill="#FF0000"/>
<rect x="84" y="682" width="2" height="25" fill="#FF0000"/>
<rect x="100" y="679" width="2" height="28" fill="#FF0000"/>
<rect x="116" y="678" width="2" height="29" fill="#FF0000"/>
<rect x="132" y="678" width="2" height="29" fill="#FF0000"/>
<rect x="148" y="678" width="2" height="29" fill="#FF0000"/>
<rect x="164" y="681" width="2" height="26" fill="#FF0000"/>
<rect x="180" y="688" width="2" height="19" fill="#FF0000"/>
<rect x="196" y="690" width="2" height="17" fill="#FF0000"/>
<rect x="212" y="693" width="2" height="14" fill="#FF0000"/>
<rect x="228" y="697" width="2" height="10" fill="#FF0000"/>
<rect x="244" y="700" width="2" height="7" fill="#FF0000"/>
<rect x="260" y="700" width="2" height="7" fill="#FF0000"/>
<rect x="276" y="695" width="2" height="12" fill="#FF0000"/>
<rect x="292" y="696" width="2" height="11" fill="#FF0000"/>
<rect x="308" y="702" width="2" height="5" fill="#FF0000"/>
<rect x="324" y="707" width="2" height="1" fill="#FF0000"/>
<rect x="340" y="707" width="2" height="5" fill="#008000"/>
<rect x="356" y="707" width="2" height="1" fill="#FF0000"/>
<rect x="372" y="704" width="2" height="3" fill="#FF0000"/>
<rect x="388" y="707" width="2" height="1" fill="#FF0000"/>
<rect x="404" y="707" width="2" height="3" fill="#008000"/>
<rect x="420" y="706" width="2" height="1" fill="#FF0000"/>
<rect x="436" y="700" width="2" height="7" fill="#FF0000"/>
<rect x="452" y="693" width="2" height="14" fill="#FF0000"/>
<rect x="468" y="691" width="2" height="16" fill="#FF0000"/>
<rect x="484" y="694" width="2" height="13" fill="#FF0000"/>
<rect x="500" y="697" width="2" height="10" fill="#FF0000"/>
<rect x="516" y="702" width="2" height="5" fill="#FF0000"/>
<rect x="532" y="697" width="2" height="10" fill="#FF0000"/>
<rect x="548" y="690" width="2" height="17" fill="#FF0000"/>
<rect x="564" y="684" width="2" height="23" fill="#FF0000"/>
<rect x="580" y="679" width="2" height="28" fill="#FF0000"/>
<rect x="596" y="668" width="2" height="39" fill="#FF0000"/>
<rect x="612" y="667" width="2" height="40" fill="#FF0000"/>
<rect x="628" y="667" width="2" height="40" fill="#FF0000"/>
<rect x="644" y="670" width="2" height="37" fill="#FF0000"/>
<rect x="660" y="677" width="2" height="30" fill="#FF0000"/>
<rect x="676" y="677" width="2" height="30" fill="#FF0000"/>
<rect x="692" y="681" width="2" height="26" fill="#FF0000"/>
<rect x="708" y="695" width="2" height="12" fill="#FF0000"/>
<rect x="724" y="701" width="2" height="6" fill="#FF0000"/>
<rect x="740" y="690" width="2" height="17" fill="#FF0000"/>
<rect x="756" y="682" width="2" height="25" fill="#FF0000"/>
<rect x="772" y="677" width="2" height="30" fill="#FF0000"/>
<rect x="788" y="681" width="2" height="26" fill="#FF0000"/>
<rect x="804" y="686" width="2" height="21" fill="#FF0000"/>
<rect x="820" y="683" width="2" height="24" fill="#FF0000"/>
<rect x="836" y="675" width="2" height="32" fill="#FF0000"/>
<rect x="852" y="681" width="2" height="26" fill="#FF0000"/>
<rect x="868" y="696" width="2" height="11" fill="#FF0000"/>
<rect x="884" y="707" width="2" height="11" fill="#008000"/>
<rect x="900" y="707" width="2" height="21" fill="#008000"/>
<rect x="916" y="707" width="2" height="26" fill="#008000"/>
<rect x="932" y="707" width="2" height="32" fill="#008000"/>
<rect x="948" y="707" width="2" height="36" fill="#008000"/>
<rect x="964" y="707" width="2" height="35" fill="#008000"/>
<rect x="980" y="707" width="2" height="31" fill="#008000"/>
<rect x="996" y="707" width="2" height="29" fill="#008000"/>
<rect x="1012" y="707" width="2" height="9" fill="#008000"/>
<rect x="1028" y="703" width="2" height="4" fill="#FF0000"/>
<rect x="1044" y="700" width="2" height="7" fill="#FF0000"/>
<rect x="1060" y="699" width="2" height="8" fill="#FF0000"/>
<rect x="1076" y="700" width="2" height="7" fill="#FF0000"/>
<rect x="1092" y="694" width="2" height="13" fill="#FF0000"/>
<rect x="1108" y="684" width="2" height="23" fill="#FF0000"/>
<rect x="1124" y="681" width="2" height="26" fill="#FF0000"/>
<rect x="1140" y="682" width="2" height="25" fill="#FF0000"/>
<rect x="1156" y="680" width="2" height="27" fill="#FF0000"/>
<rect x="1172" y="678" width="2" height="29" fill="#FF0000"/>
<rect x="1188" y="682" width="2" height="25" fill="#FF0000"/>
<rect x="1204" y="683" width="2" height="24" fill="#FF0000"/>
<rect x="1220" y="698" width="2" height="9" fill="#FF0000"/>
<rect x="1236" y="707" width="2" height="12" fill="#008000"/>
<rect x="1252" y="707" width="2" height="26" fill="#008000"/>
<rect x="1268" y="707" width="2" height="31" fill="#008000"/>
<rect x="1284" y="707" width="2" height="30" fill="#008000"/>
<rect x="1300" y="707" width="2" height="31" fill="#008000"/>
<rect x="1316" y="707" width="2" height="33" fill="#008000"/>
<rect x="1332" y="707" width="2" height="37" fill="#008000"/>
<rect x="1348" y="707" width="2" height="37" fill="#008000"/>
<rect x="1364" y="707" width="2" height="44" fill="#008000"/>
<rect x="1380" y="707" width="2" height="51" fill="#008000"/>
<rect x="1396" y="707" width="2" height="51" fill="#008000"/>
<rect x="1412" y="707" width="2" height="48" fill="#008000"/>
<rect x="1428" y="707" width="2" height="45" fill="#008000"/>
<rect x="1444" y="707" width="2" height="37" fill="#008000"/>
<path fill="none" stroke="#0000FF" stroke-width="1" d="M1204 528.5h3M1200 529.5h4M1207 529.5h2M846 530.5h9M1196 530.5h4M1209 530.5h2M837 531.5h9M855 531.5h2M1192 531.5h4M1211 531.5h2M835 532.5h2M857 532.5h3M1186 532.5h6M1213 532.5h3M834 533.5h1M860 533.5h3M1180 533.5h6M1216 533.5h2M832 534.5h2M863 534.5h2M1174 534.5h6M1218 534.5h2M830 535.5h2M865 535.5h3M1171 535.5h3M1220 535.5h2M829 536.5h1M868 536.5h2M1168 536.5h3M1222 536.5h1M827 537.5h2M870 537.5h1M1165 537.5h3M1223 537.5h1M826 538.5h1M871 538.5h1M1162 538.5h3M1224 538.5h1M824 539.5h2M872 539.5h1M1159 539.5h3M1225 539.5h2M822 540.5h2M873 540.5h1M1156 540.5h3M1227 540.5h1M820 541.5h2M874 541.5h1M1153 541.5h3M1228 541.5h1M818 542.5h2M875 542.5h1M1150 542.5h3M1229 542.5h1M815 543.5h3M876 543.5h1M1147 543.5h3M1230 543.5h1M813 544.5h2M877 544.5h2M1144 544.5h3M1231 544.5h1M810 545.5h3M879 545.5h1M1142 545.5h2M1232 545.5h1M808 546.5h2M880 546.5h1M1138 546.5h4M1233 546.5h2M806 547.5h2M881 547.5h1M1134 547.5h4M1235 547.5h1M784 548.5h22M882 548.5h1M1130 548.5h4M1236 548.5h1M774 549.5h10M883 549.5h1M1126 549.5h4M1237 549.5h1M771 550.5h3M884 550.5h1M1123 550.5h3M1238 550.5h1M769 551.5h2M885 551.5h1M1121 551.5h2M1239 551.5h2M767 552.5h2M886 552.5h2M1119 552.5h2M1241 552.5h1M764 553.5h3M888 553.5h2M1116 553.5h3M1242 553.5h1M762 554.5h2M890 554.5h2M1114 554.5h2M1243 554.5h2M760 555.5h2M892 555.5h2M1112 555.5h2M1245 555.5h1M758 556.5h2M894 556.5h2M1110 556.5h2M1246 556.5h1M756 557.5h2M896 557.5h2M1108 557.5h2M1247 557.5h1M754 558.5h2M898 558.5h2M1106 558.5h2M1248 558.5h2M753 559.5h1M900 559.5h1M1104 559.5h2M1250 559.5h1M751 560.5h2M901 560.5h4M1103 560.5h1M1251 560.5h1M750 561.5h1M905 561.5h4M1101 561.5h2M1252 561.5h1M748 562.5h2M909 562.5h3M1099 562.5h2M1253 562.5h4M747 563.5h1M912 563.5h4M1098 563.5h1M1257 563.5h4M745 564.5h2M916 564.5h2M1096 564.5h2M1261 564.5h3M744 565.5h1M918 565.5h2M1094 565.5h2M1264 565.5h4M742 566.5h2M920 566.5h2M1092 566.5h2M1268 566.5h5M741 567.5h1M922 567.5h2M1090 567.5h2M1273 567.5h8M740 568.5h1M924 568.5h2M1088 568.5h2M1281 568.5h6M738 569.5h2M926 569.5h2M1086 569.5h2M1287 569.5h4M737 570.5h1M928 570.5h2M1083 570.5h3M1291 570.5h3M736 571.5h1M930 571.5h2M1081 571.5h2M1294 571.5h4M735 572.5h1M932 572.5h3M1028 572.5h41M1079 572.5h2M1298 572.5h3M691 573.5h4M734 573.5h1M935 573.5h2M1026 573.5h2M1069 573.5h10M1301 573.5h3M686 574.5h5M695 574.5h2M732 574.5h2M937 574.5h3M1024 574.5h2M1304 574.5h2M680 575.5h6M697 575.5h3M731 575.5h1M940 575.5h2M1022 575.5h2M1306 575.5h2M676 576.5h4M700 576.5h3M730 576.5h1M942 576.5h3M1020 576.5h2M1308 576.5h3M674 577.5h2M703 577.5h2M729 577.5h1M945 577.5h2M1018 577.5h2M1311 577.5h2M672 578.5h2M705 578.5h3M727 578.5h2M947 578.5h2M1016 578.5h2M1313 578.5h2M670 579.5h2M708 579.5h9M726 579.5h1M949 579.5h5M1014 579.5h2M1315 579.5h2M667 580.5h3M717 580.5h9M954 580.5h5M1012 580.5h2M1317 580.5h2M665 581.5h2M959 581.5h4M1011 581.5h1M1319 581.5h2M663 582.5h2M963 582.5h6M1009 582.5h2M1321 582.5h2M659 583.5h4M969 583.5h8M1008 583.5h1M1323 583.5h2M654 584.5h5M977 584.5h6M1006 584.5h2M1325 584.5h2M648 585.5h6M983 585.5h2M1005 585.5h1M1327 585.5h2M643 586.5h5M985 586.5h3M1003 586.5h2M1329 586.5h2M639 587.5h4M988 587.5h2M1002 587.5h1M1331 587.5h2M634 588.5h5M990 588.5h3M1000 588.5h2M1333 588.5h1M630 589.5h4M993 589.5h2M999 589.5h1M1334 589.5h2M626 590.5h4M995 590.5h2M998 590.5h1M1336 590.5h2M623 591.5h3M997 591.5h1M1338 591.5h2M620 592.5h3M1340 592.5h2M617 593.5h3M1342 593.5h2M614 594.5h3M1344 594.5h2M611 595.5h3M1346 595.5h2M609 596.5h2M1348 596.5h2M607 597.5h2M1350 597.5h1M604 598.5h3M1351 598.5h2M602 599.5h2M1353 599.5h1M600 600.5h2M1354 600.5h1M598 601.5h2M1355 601.5h1M596 602.5h2M1356 602.5h1M595 603.5h1M1357 603.5h2M594 604.5h1M1359 604.5h1M593 605.5h1M1360 605.5h1M591 606.5h2M1361 606.5h1M590 607.5h1M1362 607.5h2M589 608.5h1M1364 608.5h1M588 609.5h1M1365 609.5h1M586 610.5h2M1366 610.5h1M585 611.5h1M1367 611.5h1M584 612.5h1M1368 612.5h1M583 613.5h1M1369 613.5h2M582 614.5h1M1371 614.5h1M580 615.5h2M1372 615.5h1M578 616.5h2M1373 616.5h1M576 617.5h2M1374 617.5h1M574 618.5h2M1375 618.5h1M572 619.5h2M1376 619.5h1M570 620.5h2M1377 620.5h2M568 621.5h2M1379 621.5h1M566 622.5h2M1380 622.5h1M564 623.5h2M1381 623.5h1M562 624.5h2M1382 624.5h2M560 625.5h2M1384 625.5h2M558 626.5h2M1386 626.5h2M556 627.5h2M1388 627.5h2M554 628.5h2M1390 628.5h2M552 629.5h2M1392 629.5h2M550 630.5h2M1394 630.5h2M548 631.5h2M1396 631.5h1M546 632.5h2M1397 632.5h4M545 633.5h1M1401 633.5h3M543 634.5h2M1404 634.5h3M542 635.5h1M1407 635.5h3M540 636.5h2M1410 636.5h3M539 637.5h1M1413 637.5h3M537 638.5h2M1416 638.5h3M536 639.5h1M1419 639.5h2M534 640.5h2M1421 640.5h3M532 641.5h2M1424 641.5h3M528 642.5h4M1427 642.5h2M465 643.5h36M524 643.5h4M1429 643.5h8M460 644.5h5M501 644.5h11M520 644.5h4M1437 644.5h8M456 645.5h4M512 645.5h8M1445 645.5h1M452 646.5h4M450 647.5h2M448 648.5h2M446 649.5h2M443 650.5h3M441 651.5h2M439 652.5h2M436 653.5h3M288 654.5h8M432 654.5h4M278 655.5h10M296 655.5h5M429 655.5h3M275 656.5h3M301 656.5h6M371 656.5h6M425 656.5h4M272 657.5h3M307 657.5h4M366 657.5h5M377 657.5h8M422 657.5h3M269 658.5h3M311 658.5h4M360 658.5h6M385 658.5h8M415 658.5h7M266 659.5h3M315 659.5h4M356 659.5h4M393 659.5h8M409 659.5h6M263 660.5h3M319 660.5h4M352 660.5h4M401 660.5h8M258 661.5h5M323 661.5h6M349 661.5h3M250 662.5h8M329 662.5h6M345 662.5h4M210 663.5h9M240 663.5h10M335 663.5h6M342 663.5h3M204 664.5h6M219 664.5h10M230 664.5h10M341 664.5h1M198 665.5h6M229 665.5h1M194 666.5h4M190 667.5h4M186 668.5h4M182 669.5h4M159 670.5h23M153 671.5h6M148 672.5h5M144 673.5h4M140 674.5h4M136 675.5h4M132 676.5h4M128 677.5h4M124 678.5h4M120 679.5h4M116 680.5h4M112 681.5h4M108 682.5h4M104 683.5h4M100 684.5h4M97 685.5h3M94 686.5h3M90 687.5h4M87 688.5h3M85 689.5h2M84 690.5h1M83 691.5h1M81 692.5h2M80 693.5h1M79 694.5h1M78 695.5h1M77 696.5h1M75 697.5h2M74 698.5h1M73 699.5h1M72 700.5h1M71 701.5h1M70 702.5h1M68 703.5h2M67 704.5h1M66 705.5h1M65 706.5h1M64 707.5h1M63 708.5h1M62 709.5h1M60 710.5h2M59 711.5h1M58 712.5h1M5 713.5h11M57 713.5h1M16 714.5h9M56 714.5h1M25 715.5h6M55 715.5h1M31 716.5h6M54 716.5h1M37 717.5h17"/>
<path fill="none" stroke="#FF0000" stroke-width="1" d="M1230 541.5h29M1220 542.5h49M880 543.5h21M1216 543.5h14M1259 543.5h16M870 544.5h50M1212 544.5h8M1269 544.5h11M866 545.5h14M901 545.5h24M1208 545.5h8M1275 545.5h10M862 546.5h8M920 546.5h11M1204 546.5h8M1280 546.5h9M859 547.5h7M925 547.5h11M1201 547.5h7M1285 547.5h8M855 548.5h7M931 548.5h9M1198 548.5h6M1289 548.5h8M852 549.5h7M936 549.5h9M1194 549.5h7M1293 549.5h8M849 550.5h6M940 550.5h9M1191 550.5h7M1297 550.5h8M846 551.5h6M945 551.5h8M1188 551.5h6M1301 551.5h8M842 552.5h7M949 552.5h7M1184 552.5h7M1305 552.5h7M839 553.5h7M953 553.5h6M1180 553.5h8M1309 553.5h7M836 554.5h6M956 554.5h6M1176 554.5h8M1312 554.5h7M833 555.5h6M959 555.5h6M1172 555.5h8M1316 555.5h5M830 556.5h6M962 556.5h6M1168 556.5h8M1319 556.5h5M826 557.5h7M965 557.5h6M1165 557.5h7M1321 557.5h5M823 558.5h7M968 558.5h5M1161 558.5h7M1324 558.5h5M820 559.5h6M971 559.5h5M1158 559.5h7M1326 559.5h5M816 560.5h7M973 560.5h6M1154 560.5h7M1329 560.5h4M812 561.5h8M976 561.5h5M1150 561.5h8M1331 561.5h5M808 562.5h8M979 562.5h5M1147 562.5h7M1333 562.5h5M804 563.5h8M981 563.5h6M1143 563.5h7M1336 563.5h4M800 564.5h8M984 564.5h5M1140 564.5h7M1338 564.5h5M797 565.5h7M987 565.5h5M1137 565.5h6M1340 565.5h5M793 566.5h7M989 566.5h6M1134 566.5h6M1343 566.5h4M790 567.5h7M992 567.5h5M1130 567.5h7M1345 567.5h4M786 568.5h7M995 568.5h6M1127 568.5h7M1347 568.5h4M782 569.5h8M997 569.5h7M1124 569.5h6M1349 569.5h4M778 570.5h8M1001 570.5h6M1120 570.5h7M1351 570.5h4M774 571.5h8M1004 571.5h6M1116 571.5h8M1353 571.5h4M770 572.5h8M1007 572.5h6M1112 572.5h8M1355 572.5h3M766 573.5h8M1010 573.5h9M1107 573.5h9M1357 573.5h3M762 574.5h8M1013 574.5h11M1103 574.5h9M1358 574.5h4M758 575.5h8M1019 575.5h10M1098 575.5h9M1360 575.5h4M754 576.5h8M1024 576.5h21M1094 576.5h9M1362 576.5h3M751 577.5h7M1029 577.5h69M1364 577.5h4M748 578.5h6M1045 578.5h49M1365 578.5h5M745 579.5h6M1368 579.5h4M742 580.5h6M1370 580.5h4M737 581.5h8M1372 581.5h4M732 582.5h10M1374 582.5h4M728 583.5h9M1376 583.5h4M724 584.5h8M1378 584.5h4M720 585.5h8M1380 585.5h4M716 586.5h8M1382 586.5h4M712 587.5h8M1384 587.5h4M708 588.5h8M1386 588.5h4M705 589.5h7M1388 589.5h4M702 590.5h6M1390 590.5h4M698 591.5h7M1392 591.5h4M695 592.5h7M1394 592.5h3M692 593.5h6M1396 593.5h4M689 594.5h6M1397 594.5h5M686 595.5h6M1400 595.5h5M683 596.5h6M1402 596.5h5M680 597.5h6M1405 597.5h5M678 598.5h5M1407 598.5h5M675 599.5h5M1410 599.5h4M673 600.5h5M1412 600.5h4M670 601.5h5M1414 601.5h4M668 602.5h5M1416 602.5h4M665 603.5h5M1418 603.5h4M663 604.5h5M1420 604.5h4M660 605.5h5M1422 605.5h4M658 606.5h5M1424 606.5h4M655 607.5h5M1426 607.5h4M653 608.5h5M1428 608.5h4M650 609.5h5M1430 609.5h4M648 610.5h5M1432 610.5h4M646 611.5h4M1434 611.5h4M643 612.5h5M1436 612.5h4M641 613.5h5M1438 613.5h4M639 614.5h4M1440 614.5h4M637 615.5h4M1442 615.5h4M635 616.5h4M1444 616.5h2M633 617.5h4M631 618.5h4M628 619.5h5M625 620.5h6M622 621.5h6M619 622.5h6M616 623.5h6M614 624.5h5M610 625.5h6M607 626.5h7M604 627.5h6M601 628.5h6M598 629.5h6M594 630.5h7M591 631.5h7M588 632.5h6M585 633.5h6M582 634.5h6M578 635.5h7M574 636.5h8M571 637.5h7M567 638.5h7M564 639.5h7M560 640.5h7M556 641.5h8M552 642.5h8M547 643.5h9M543 644.5h9M538 645.5h9M534 646.5h9M526 647.5h12M518 648.5h16M502 649.5h24M494 650.5h24M486 651.5h16M480 652.5h14M475 653.5h11M470 654.5h10M462 655.5h13M454 656.5h16M422 657.5h40M358 658.5h96M326 659.5h96M306 660.5h52M298 661.5h28M290 662.5h16M282 663.5h16M274 664.5h16M266 665.5h16M258 666.5h16M252 667.5h14M246 668.5h12M238 669.5h14M230 670.5h16M224 671.5h14M219 672.5h11M214 673.5h10M210 674.5h9M206 675.5h8M202 676.5h8M198 677.5h8M195 678.5h7M192 679.5h6M189 680.5h6M186 681.5h6M183 682.5h6M180 683.5h6M177 684.5h6M174 685.5h6M170 686.5h7M167 687.5h7M164 688.5h6M161 689.5h6M158 690.5h6M154 691.5h7M151 692.5h7M148 693.5h6M145 694.5h6M142 695.5h6M138 696.5h7M135 697.5h7M132 698.5h6M128 699.5h7M124 700.5h8M120 701.5h8M115 702.5h9M110 703.5h10M104 704.5h11M99 705.5h11M94 706.5h10M88 707.5h11M83 708.5h11M79 709.5h9M74 710.5h9M70 711.5h9M38 712.5h36M22 713.5h48M5 714.5h33M5 715.5h17"/>
</g>
<rect x="1842" y="15" width="2" height="1" fill="#000"/>
<text x="1847" y="19" textLength="33.5" lengthAdjust="spacingAndGlyphs">3685.70</text>
<rect x="1842" y="48" width="2" height="1" fill="#000"/>
<text x="1847" y="52" textLength="33.5" lengthAdjust="spacingAndGlyphs">3660.50</text>
<rect x="1842" y="81" width="2" height="1" fill="#000"/>
<text x="1847" y="85" textLength="33.5" lengthAdjust="spacingAndGlyphs">3636.00</text>
<rect x="1842" y="114" width="2" height="1" fill="#000"/>
<text x="1847" y="118" textLength="33.5" lengthAdjust="spacingAndGlyphs">3611.50</text>
<rect x="1842" y="147" width="2" height="1" fill="#000"/>
<text x="1847" y="151" textLength="33.5" lengthAdjust="spacingAndGlyphs">3586.30</text>
<rect x="1842" y="180" width="2" height="1" fill="#000"/>
<text x="1847" y="184" textLength="33.5" lengthAdjust="spacingAndGlyphs">3561.80</text>
<rect x="1842" y="213" width="2" height="1" fill="#000"/>
<text x="1847" y="217" textLength="33.5" lengthAdjust="spacingAndGlyphs">3537.30</text>
<rect x="1842" y="246" width="2" height="1" fill="#000"/>
<text x="1847" y="250" textLength="33.5" lengthAdjust="spacingAndGlyphs">3512.10</text>
<rect x="1842" y="279" width="2" height="1" fill="#000"/>
<text x="1847" y="283" textLength="33.5" lengthAdjust="spacingAndGlyphs">3487.60</text>
<rect x="1842" y="312" width="2" height="1" fill="#000"/>
<text x="1847" y="316" textLength="33.5" lengthAdjust="spacingAndGlyphs">3463.10</text>
<rect x="1842" y="345" width="2" height="1" fill="#000"/>
<text x="1847" y="349" textLength="33.5" lengthAdjust="spacingAndGlyphs">3437.90</text>
<rect x="1842" y="378" width="2" height="1" fill="#000"/>
<text x="1847" y="382" textLength="33.5" lengthAdjust="spacingAndGlyphs">3413.40</text>
<rect x="1842" y="411" width="2" height="1" fill="#000"/>
<text x="1847" y="415" textLength="33.5" lengthAdjust="spacingAndGlyphs">3388.90</text>
<rect x="1842" y="444" width="2" height="1" fill="#000"/>
<text x="1847" y="448" textLength="33.5" lengthAdjust="spacingAndGlyphs">3363.70</text>
<rect x="1842" y="477" width="2" height="1" fill="#000"/>
<text x="1847" y="481" textLength="33.5" lengthAdjust="spacingAndGlyphs">3339.20</text>
<rect x="1842" y="510" width="2" height="1" fill="#000"/>
<text x="1847" y="514" textLength="33.5" lengthAdjust="spacingAndGlyphs">3314.70</text>
<rect x="1843" y="31" width="41" height="11" fill="#FF0000"/>
<text x="1847" y="40" textLength="33.5" lengthAdjust="spacingAndGlyphs" class="w">3668.66</text>
<rect x="1843" y="51" width="41" height="11" fill="#FF0000"/>
<text x="1847" y="60" textLength="33.5" lengthAdjust="spacingAndGlyphs" class="w">3653.67</text>
<rect x="1843" y="70" width="41" height="11" fill="#000"/>
<text x="1847" y="79" textLength="33.5" lengthAdjust="spacingAndGlyphs" class="w">3640.87</text>
<rect x="1843" y="83" width="41" height="11" fill="#FF0000"/>
<text x="1847" y="92" textLength="33.5" lengthAdjust="spacingAndGlyphs" class="w">3629.77</text>
<rect x="1843" y="98" width="41" height="11" fill="#FF0000"/>
<text x="1847" y="107" textLength="33.5" lengthAdjust="spacingAndGlyphs" class="w">3618.97</text>
<rect x="1842" y="517" width="1" height="1" fill="#000"/>
<text x="1845" y="526" textLength="28.5" lengthAdjust="spacingAndGlyphs">40.664</text>
<rect x="1842" y="707" width="1" height="1" fill="#000"/>
<text x="1845" y="711" textLength="18.5" lengthAdjust="spacingAndGlyphs">0.00</text>
<rect x="1842" y="768" width="1" height="1" fill="#000"/>
<text x="1845" y="766" textLength="26.5" lengthAdjust="spacingAndGlyphs">-13.04</text>
<rect x="5" y="770" width="1" height="3" fill="#000"/>
<text x="4" y="782" textLength="54" lengthAdjust="spacingAndGlyphs">22 Aug 2025</text>
<rect x="69" y="770" width="1" height="3" fill="#000"/>
<text x="68" y="782" textLength="57" lengthAdjust="spacingAndGlyphs">22 Aug 17:00</text>
<rect x="133" y="770" width="1" height="3" fill="#000"/>
<text x="132" y="782" textLength="57" lengthAdjust="spacingAndGlyphs">25 Aug 09:00</text>
<rect x="197" y="770" width="1" height="3" fill="#000"/>
<text x="196" y="782" textLength="57" lengthAdjust="spacingAndGlyphs">26 Aug 01:00</text>
<rect x="261" y="770" width="1" height="3" fill="#000"/>
<text x="260" y="782" textLength="57" lengthAdjust="spacingAndGlyphs">26 Aug 17:00</text>
<rect x="325" y="770" width="1" height="3" fill="#000"/>
<text x="324" y="782" textLength="57" lengthAdjust="spacingAndGlyphs">27 Aug 09:00</text>
<rect x="389" y="770" width="1" height="3" fill="#000"/>
<text x="388" y="782" textLength="57" lengthAdjust="spacingAndGlyphs">28 Aug 01:00</text>
<rect x="453" y="770" width="1" height="3" fill="#000"/>
<text x="452" y="782" textLength="57" lengthAdjust="spacingAndGlyphs">28 Aug 17:00</text>
<rect x="517" y="770" width="1" height="3" fill="#000"/>
<text x="516" y="782" textLength="57" lengthAdjust="spacingAndGlyphs">29 Aug 09:00</text>
<rect x="581" y="770" width="1" height="3" fill="#000"/>
<text x="580" y="782" textLength="50" lengthAdjust="spacingAndGlyphs">1 Sep 01:00</text>
<rect x="645" y="770" width="1" height="3" fill="#000"/>
<text x="644" y="782" textLength="50" lengthAdjust="spacingAndGlyphs">1 Sep 17:00</text>
<rect x="709" y="770" width="1" height="3" fill="#000"/>
<text x="708" y="782" textLength="50" lengthAdjust="spacingAndGlyphs">2 Sep 09:00</text>
<rect x="773" y="770" width="1" height="3" fill="#000"/>
<text x="772" y="782" textLength="50" lengthAdjust="spacingAndGlyphs">3 Sep 01:00</text>
<rect x="837" y="770" width="1" height="3" fill="#000"/>
<text x="836" y="782" textLength="50" lengthAdjust="spacingAndGlyphs">3 Sep 17:00</text>
<rect x="901" y="770" width="1" height="3" fill="#000"/>
<text x="900" y="782" textLength="50" lengthAdjust="spacingAndGlyphs">4 Sep 09:00</text>
<rect x="965" y="770" width="1" height="3" fill="#000"/>
<text x="964" y="782" textLength="50" lengthAdjust="spacingAndGlyphs">5 Sep 01:00</text>
<rect x="1029" y="770" width="1" height="3" fill="#000"/>
<text x="1028" y="782" textLength="50" lengthAdjust="spacingAndGlyphs">5 Sep 17:00</text>
<rect x="1093" y="770" width="1" height="3" fill="#000"/>
<text x="1092" y="782" textLength="50" lengthAdjust="spacingAndGlyphs">8 Sep 09:00</text>
<rect x="1157" y="770" width="1" height="3" fill="#000"/>
<text x="1156" y="782" textLength="50" lengthAdjust="spacingAndGlyphs">9 Sep 01:00</text>
<rect x="1221" y="770" width="1" height="3" fill="#000"/>
<text x="1220" y="782" textLength="50" lengthAdjust="spacingAndGlyphs">9 Sep 17:00</text>
<rect x="1285" y="770" width="1" height="3" fill="#000"/>
<text x="1284" y="782" textLength="55" lengthAdjust="spacingAndGlyphs">10 Sep 09:00</text>
<rect x="1349" y="770" width="1" height="3" fill="#000"/>
<text x="1348" y="782" textLength="55" lengthAdjust="spacingAndGlyphs">11 Sep 01:00</text>
<rect x="1413" y="770" width="1" height="3" fill="#000"/>
<text x="1412" y="782" textLength="55" lengthAdjust="spacingAndGlyphs">11 Sep 17:00</text>
<text y="16"><tspan x="9" textLength="70" lengthAdjust="spacingAndGlyphs">XAUUSD.pro,H4</tspan> <tspan x="85" textLength="33" lengthAdjust="spacingAndGlyphs">3633.92</tspan> <tspan x="121" textLength="33" lengthAdjust="spacingAndGlyphs">3643.99</tspan> <tspan x="157" textLength="33" lengthAdjust="spacingAndGlyphs">3630.52</tspan> <tspan x="193" textLength="33" lengthAdjust="spacingAndGlyphs">3640.87</tspan></text>
<text y="528"><tspan x="9" textLength="66" lengthAdjust="spacingAndGlyphs">MACD(12,26,9)</tspan> <tspan x="78" textLength="27.5" lengthAdjust="spacingAndGlyphs">13.450</tspan> <tspan x="109.5" textLength="27.5" lengthAdjust="spacingAndGlyphs">19.356</tspan> <tspan x="140.5" textLength="22" lengthAdjust="spacingAndGlyphs">0.000</tspan> <tspan x="166.5" textLength="25.5" lengthAdjust="spacingAndGlyphs">-7.678</tspan></text>
</svg></body></html>
